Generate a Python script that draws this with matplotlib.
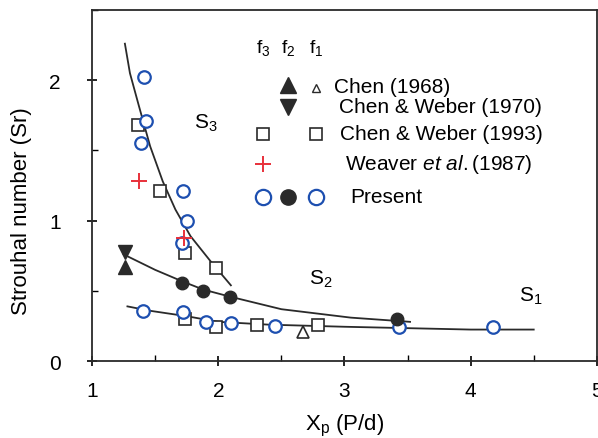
import matplotlib
matplotlib.use("Agg")
import matplotlib.pyplot as plt
from matplotlib.ticker import MultipleLocator

plt.rcParams['font.family'] = ['Liberation Sans', 'DejaVu Sans']
plt.rcParams['mathtext.fontset'] = 'custom'
plt.rcParams['mathtext.rm'] = 'Liberation Sans'
plt.rcParams['mathtext.it'] = 'Liberation Sans:italic'

# fitted branches S3, S2, S1
s3_x = [1.26, 1.30, 1.37, 1.46, 1.56, 1.66, 1.78, 1.94, 2.10]
s3_y = [2.26, 2.05, 1.82, 1.53, 1.28, 1.08, 0.89, 0.71, 0.54]
s2_x = [1.25, 1.50, 1.71, 1.88, 2.09, 2.50, 3.05, 3.52]
s2_y = [0.76, 0.65, 0.57, 0.51, 0.46, 0.37, 0.31, 0.28]
s1_x = [1.28, 1.45, 1.75, 2.00, 2.40, 3.00, 3.50, 4.00, 4.50]
s1_y = [0.39, 0.36, 0.32, 0.28, 0.26, 0.245, 0.235, 0.225, 0.225]

# present study
present_f3_x = [1.41, 1.43, 1.39, 1.72, 1.75, 1.71]
present_f3_y = [2.02, 1.71, 1.55, 1.21, 1.00, 0.84]
present_f2_x = [1.71, 1.88, 2.09, 3.42]
present_f2_y = [0.56, 0.50, 0.46, 0.30]
present_f1_x = [1.40, 1.72, 1.90, 2.10, 2.45, 3.43, 4.18]
present_f1_y = [0.36, 0.35, 0.28, 0.27, 0.25, 0.24, 0.24]

# Chen & Weber (1993)
cw93_f3_x = [1.36, 1.54, 1.74, 1.98]
cw93_f3_y = [1.68, 1.21, 0.77, 0.66]
cw93_f1_x = [1.74, 1.98, 2.31, 2.79]
cw93_f1_y = [0.30, 0.24, 0.26, 0.26]

# Weaver et al. (1987)
weaver_x = [1.37, 1.73]
weaver_y = [1.28, 0.88]

# Chen (1968), Chen & Weber (1970)
chen68_f2_x = [1.26]
chen68_f2_y = [0.67]
chen68_f1_x = [2.67]
chen68_f1_y = [0.21]
cw70_f2_x = [1.26]
cw70_f2_y = [0.78]

blue = '#1d4fb0'
red = '#e8303a'
dark = '#2a2a2a'

fig = plt.figure(figsize=(5.98, 4.39), dpi=100)
ax = fig.add_axes([0.154, 0.175, 0.844, 0.80])

# fitted curves
for lx, ly in [(s3_x, s3_y), (s2_x, s2_y), (s1_x, s1_y)]:
    ax.plot(lx, ly, color=dark, lw=1.3, zorder=2)

circ = dict(marker='o', ms=9, mfc='white', mec=blue, mew=1.6, ls='none', zorder=4)
sq = dict(marker='s', ms=9, mfc='white', mec=dark, mew=1.2, ls='none', zorder=3)

ax.plot(cw93_f3_x, cw93_f3_y, **sq)
ax.plot(cw93_f1_x, cw93_f1_y, **sq)
ax.plot(present_f3_x, present_f3_y, **circ)
ax.plot(present_f1_x, present_f1_y, **circ)
ax.plot(present_f2_x, present_f2_y, marker='o', ms=9, color=dark, ls='none', zorder=4)
ax.plot(weaver_x, weaver_y, marker='+', ms=11, mew=1.4, color=red, ls='none', zorder=5)
ax.plot(chen68_f2_x, chen68_f2_y, marker='^', ms=10, color=dark, ls='none', zorder=4)
ax.plot(cw70_f2_x, cw70_f2_y, marker='v', ms=10, color=dark, ls='none', zorder=4)
ax.plot(chen68_f1_x, chen68_f1_y, marker='^', ms=8, mfc='white', mec=dark, mew=1.2,
        ls='none', zorder=4)

# branch labels
ax.text(1.90, 1.70, 'S$_3$', fontsize=15, ha='center', va='center')
ax.text(2.81, 0.59, 'S$_2$', fontsize=15, ha='center', va='center')
ax.text(4.48, 0.47, 'S$_1$', fontsize=15, ha='center', va='center')

# hand-made legend (columns f3, f2, f1)
tr = ax.transAxes
def ax_xy(px, py):
    return ((px - 92) / 505.0, (362 - py) / 352.0)

col_x = {'f3': 263, 'f2': 288, 'f1': 316}
for name, px in col_x.items():
    x0, y0 = ax_xy(px, 47)
    ax.text(x0, y0, 'f$_%s$' % name[1], transform=tr, fontsize=14, ha='center', va='center')

rows = [
    (87, 'Chen (1968)', 334),
    (107, 'Chen & Weber (1970)', 339),
    (134, 'Chen & Weber (1993)', 340),
    (164, 'Weaver $\\mathit{et\\ al.}$(1987)', 345),
    (197, 'Present', 350),
]
for py, label, tx in rows:
    x0, y0 = ax_xy(tx, py)
    ax.text(x0, y0, label, transform=tr, fontsize=15, ha='left', va='center')

def leg_mark(px, py, **kw):
    x0, y0 = ax_xy(px, py)
    ax.plot([x0], [y0], transform=tr, clip_on=False, ls='none', **kw)

leg_mark(col_x['f2'], 85, marker='^', ms=11, color=dark)
leg_mark(col_x['f1'], 88, marker='^', ms=6, mfc='white', mec=dark, mew=1.0)
leg_mark(col_x['f2'], 107, marker='v', ms=11, color=dark)
leg_mark(col_x['f3'], 134, marker='s', ms=9, mfc='white', mec=dark, mew=1.2)
leg_mark(col_x['f1'], 134, marker='s', ms=9, mfc='white', mec=dark, mew=1.2)
leg_mark(col_x['f3'], 164, marker='+', ms=11, mew=1.4, color=red)
leg_mark(col_x['f3'], 197, marker='o', ms=11, mfc='white', mec=blue, mew=1.6)
leg_mark(col_x['f2'], 197, marker='o', ms=11, color=dark)
leg_mark(col_x['f1'], 197, marker='o', ms=11, mfc='white', mec=blue, mew=1.6)

ax.set_xlim(1, 5)
ax.set_ylim(0, 2.5)
ax.xaxis.set_major_locator(MultipleLocator(1))
ax.xaxis.set_minor_locator(MultipleLocator(0.5))
ax.yaxis.set_major_locator(MultipleLocator(1))
ax.yaxis.set_minor_locator(MultipleLocator(0.5))
ax.tick_params(which='major', direction='inout', length=7, width=1.2, labelsize=15)
ax.tick_params(axis='x', which='major', pad=11)
ax.tick_params(axis='y', which='major', pad=19)
ax.tick_params(which='minor', direction='in', length=4, width=1.0)
for sp in ax.spines.values():
    sp.set_linewidth(1.3)
    sp.set_color(dark)

ax.set_xlabel('X$_\\mathrm{p}$ (P/d)', fontsize=16)
ax.set_ylabel('Strouhal number (Sr)', fontsize=16)
ax.xaxis.set_label_coords(0.5, -0.145)
ax.yaxis.set_label_coords(-0.12, 0.43)

fig.savefig('out.png', dpi=100)
